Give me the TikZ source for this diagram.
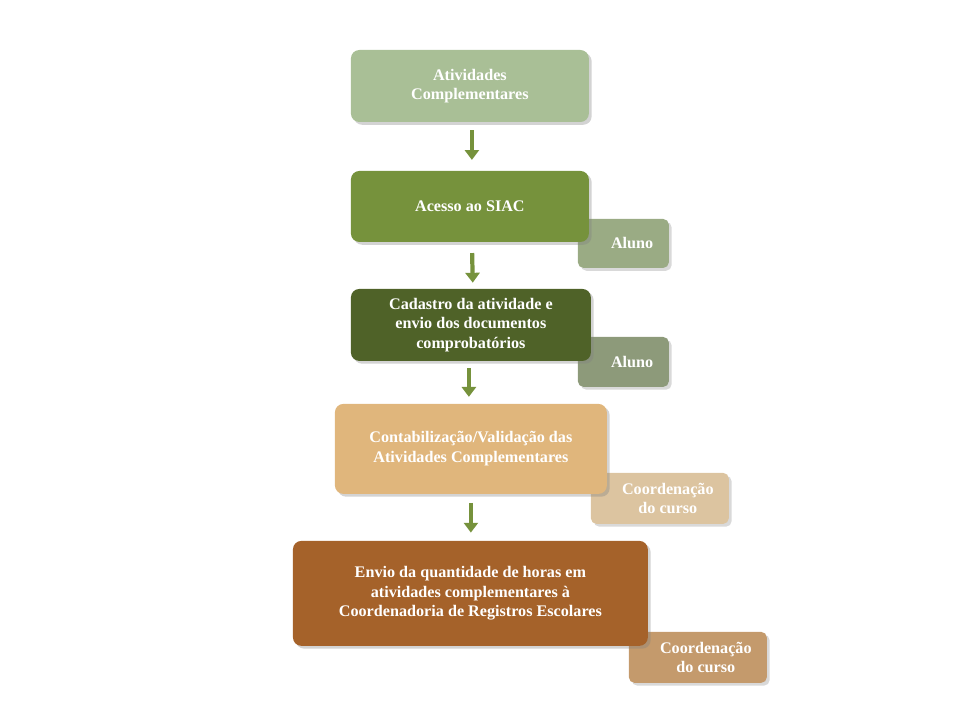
\documentclass[tikz,border=0pt]{standalone}
\usepackage{fontspec}
\setmainfont{Liberation Serif}
\usetikzlibrary{shadows,arrows.meta}
\definecolor{c1}{HTML}{A9BF96}
\definecolor{c2}{HTML}{76923C}
\definecolor{c3}{HTML}{4F6228}
\definecolor{c4}{HTML}{E0B67C}
\definecolor{c5}{HTML}{A5622A}
\definecolor{s1}{HTML}{9AAB84}
\definecolor{s2}{HTML}{8D9A7A}
\definecolor{s3}{HTML}{DCC4A0}
\definecolor{s4}{HTML}{C49A6C}
\tikzset{
 mainbox/.style={rounded corners=6pt,draw=none,text=white,font=\bfseries\fontsize{11.5}{14}\selectfont,align=center,drop shadow={opacity=0.35,shadow xshift=2pt,shadow yshift=-2pt}},
 sidebox/.style={rounded corners=4pt,draw=none,drop shadow={opacity=0.3,shadow xshift=2pt,shadow yshift=-2pt}},
 sidetext/.style={text=white,font=\bfseries\fontsize{11.5}{14}\selectfont,align=center,inner sep=0pt},
 flowarrow/.style={draw=c2,line width=3pt,-{Triangle[length=7pt,width=10pt]}}
}
\newcommand{\bx}[8]{% name, style, color, x1,y1,x2,y2 in px, text
 \node[#2,fill=#3,minimum width={(#6-#4)*0.025cm},minimum height={(#7-#5)*0.025cm},inner sep=0pt] (#1) at ({(#4+#6)/2*0.025},{-(#5+#7)/2*0.025}) {#8};}
\newcommand{\px}[2]{({#1*0.025},{-#2*0.025})}
\begin{document}
\begin{tikzpicture}
\useasboundingbox (0,0) rectangle (24,-18);
\bx{a1}{sidebox}{s1}{578}{219}{669}{268}{}
\bx{a2}{sidebox}{s2}{578}{337}{669}{387}{}
\bx{a3}{sidebox}{s3}{591}{473}{729}{524}{}
\bx{a4}{sidebox}{s4}{629}{632}{767}{683}{}
\node[sidetext] (t1) at ([xshift=0.22cm]a1.center) {Aluno};
\node[sidetext] (t2) at ([xshift=0.22cm]a2.center) {Aluno};
\node[sidetext] (t3) at ([xshift=0.2cm]a3.center) {Coordenação\\do curso};
\node[sidetext] (t4) at ([xshift=0.2cm]a4.center) {Coordenação\\do curso};
\bx{b1}{mainbox}{c1}{351}{50}{589}{122}{Atividades\\Complementares}
\bx{b2}{mainbox}{c2}{351}{171}{589}{242}{Acesso ao SIAC}
\bx{b3}{mainbox}{c3}{351}{289}{591}{361}{Cadastro da atividade e\\envio dos documentos\\comprobatórios}
\bx{b4}{mainbox}{c4}{335}{404}{607}{494}{Contabilização/Validação das\\Atividades Complementares}
\bx{b5}{mainbox}{c5}{293}{541}{648}{646}{Envio da quantidade de horas em\\atividades complementares à\\Coordenadoria de Registros Escolares}
\draw[flowarrow,shorten <=0.2cm,shorten >=0.27cm] ([xshift=0.05cm]b1.south) -- ([xshift=0.05cm]b2.north);
\draw[flowarrow,shorten <=0.27cm,shorten >=0.15cm] ([xshift=0.05cm]b2.south) -- ([xshift=0.05cm]b3.north);
\draw[flowarrow,shorten <=0.17cm,shorten >=0.17cm] ([xshift=-0.05cm]b3.south) -- ([xshift=-0.05cm]b3.south|-b4.north);
\draw[flowarrow,shorten <=0.22cm,shorten >=0.2cm] (b4.south) -- (b4.south|-b5.north);
\end{tikzpicture}
\end{document}
